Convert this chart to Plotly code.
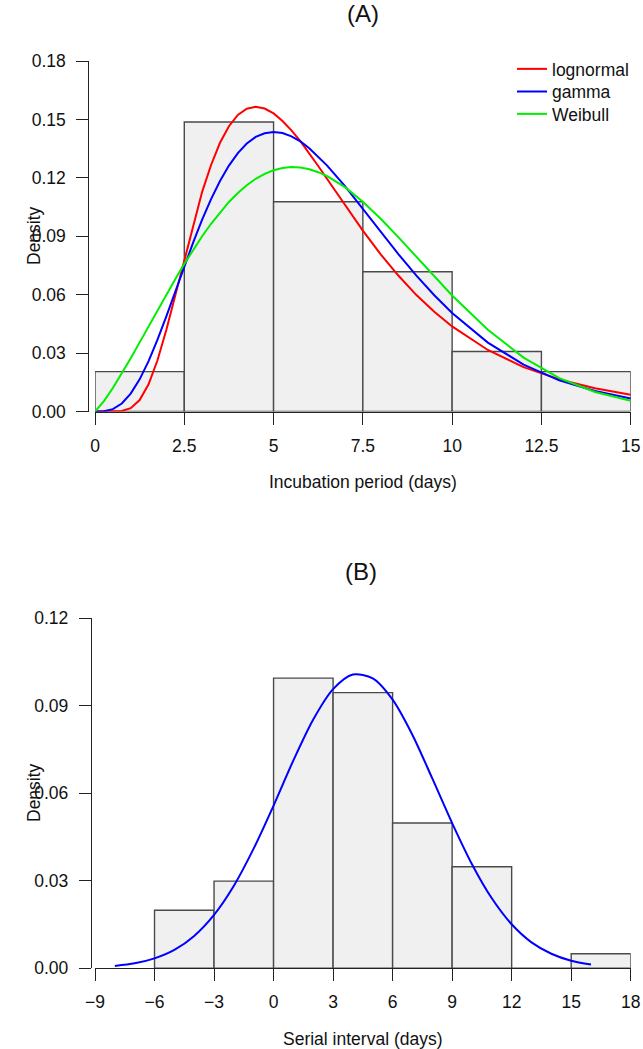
import plotly.graph_objects as go

# ---------------- data ----------------
# Panel A: incubation period histogram (density), bins of width 2.5
inc_bin_left = [0, 2.5, 5, 7.5, 10, 12.5]
inc_bin_width = 2.5
inc_density = [0.0205, 0.1487, 0.1077, 0.0718, 0.0308, 0.0205]

# fitted density curves
curve_x = [0, 0.25, 0.5, 0.75, 1, 1.25, 1.5, 1.75, 2, 2.25, 2.5, 2.75,
           3, 3.25, 3.5, 3.75, 4, 4.25, 4.5, 4.75, 5, 5.25, 5.5, 5.75, 6, 6.25,
           6.5, 7, 7.5, 8, 8.5, 9, 9.5, 10, 11, 12, 13, 14, 15]
lognormal_y = [0.0, 0.0, 0.0000, 0.0003, 0.0017, 0.0059, 0.0140, 0.0263, 0.0421,
               0.0599, 0.0784, 0.0964,
               0.1128, 0.1266, 0.1380, 0.1465, 0.1523, 0.1555, 0.1565, 0.1556,
               0.1531, 0.1492, 0.1444, 0.1388, 0.1326, 0.1261,
               0.1194, 0.1059, 0.0929, 0.0807, 0.0697, 0.0598, 0.0512, 0.0437,
               0.0316, 0.0228, 0.0165, 0.0119, 0.0086]
gamma_y = [0.0, 0.0001, 0.0012, 0.0041, 0.0092, 0.0165, 0.0259, 0.0369, 0.0490,
           0.0617, 0.0744, 0.0869,
           0.0985, 0.1091, 0.1184, 0.1263, 0.1327, 0.1376, 0.1410, 0.1429,
           0.1435, 0.1430, 0.1413, 0.1387, 0.1352, 0.1310,
           0.1263, 0.1157, 0.1041, 0.0923, 0.0807, 0.0698, 0.0597, 0.0506,
           0.0354, 0.0241, 0.0160, 0.0105, 0.0067]
weibull_y = [0.0, 0.0053, 0.0121, 0.0195, 0.0274, 0.0355, 0.0438, 0.0520, 0.0601,
             0.0681, 0.0758, 0.0831,
             0.0900, 0.0964, 0.1023, 0.1076, 0.1122, 0.1162, 0.1195, 0.1220,
             0.1239, 0.1250, 0.1255, 0.1253, 0.1244, 0.1229,
             0.1209, 0.1152, 0.1077, 0.0990, 0.0894, 0.0794, 0.0694, 0.0596,
             0.0420, 0.0277, 0.0171, 0.0100, 0.0055]

inc_xticks = [0, 2.5, 5, 7.5, 10, 12.5, 15]
inc_xticklabels = ["0", "2.5", "5", "7.5", "10", "12.5", "15"]
inc_yticks = [0.00, 0.03, 0.06, 0.09, 0.12, 0.15, 0.18]
inc_yticklabels = ["0.00", "0.03", "0.06", "0.09", "0.12", "0.15", "0.18"]

# Panel B: serial interval histogram (density), bins of width 3
si_bin_left = [-6, -3, 0, 3, 6, 9, 12, 15]
si_bin_width = 3
si_density = [0.0199, 0.0299, 0.0995, 0.0945, 0.0498, 0.0348, 0.0, 0.0050]

si_curve_x = [-8, -7, -6, -5, -4, -3, -2, -1, 0, 1, 2, 3, 4, 5, 6, 7, 8, 9,
              10, 11, 12, 13, 14, 15, 16]
si_curve_y = [0.0008, 0.0017, 0.0034, 0.0063, 0.0111, 0.0183, 0.0283, 0.0411,
              0.0558, 0.0713, 0.0853, 0.0957, 0.1007, 0.0994, 0.0921, 0.0800,
              0.0651, 0.0498, 0.0357, 0.0240, 0.0151, 0.0089, 0.0050, 0.0026,
              0.0013]

si_xticks = [-9, -6, -3, 0, 3, 6, 9, 12, 15, 18]
si_xticklabels = ["\u22129", "\u22126", "\u22123", "0", "3", "6", "9", "12", "15", "18"]
si_yticks = [0.00, 0.03, 0.06, 0.09, 0.12]
si_yticklabels = ["0.00", "0.03", "0.06", "0.09", "0.12"]

# ---------------- layout constants (pixels) ----------------
W, H = 643, 1049
FONT = "Liberation Sans, Arial, Helvetica, sans-serif"
TICK_FS = 17.5
TITLE_FS = 24

def px_x(p):
    return p / W

def px_y(p):
    return 1 - p / H

BAR_FILL = "#f0f0f0"
BAR_EDGE = "#4a4a4a"

fig = go.Figure()

fig.add_trace(go.Bar(
    x=[l + inc_bin_width / 2 for l in inc_bin_left], y=inc_density,
    width=[inc_bin_width] * len(inc_bin_left),
    marker=dict(color=BAR_FILL, line=dict(color=BAR_EDGE, width=1.4)),
    xaxis="x", yaxis="y", showlegend=False, hoverinfo="skip"))

legend_names = ["legend", "legend2", "legend3"]
for (name, ys, col), lg in zip([("lognormal", lognormal_y, "#ff0000"),
                                ("gamma", gamma_y, "#0000ff"),
                                ("Weibull", weibull_y, "#00ee00")], legend_names):
    fig.add_trace(go.Scatter(
        x=curve_x, y=ys, mode="lines", name=name, legend=lg,
        line=dict(color=col, width=2, shape="linear"),
        xaxis="x", yaxis="y"))

fig.add_trace(go.Bar(
    x=[l + si_bin_width / 2 for l in si_bin_left], y=si_density,
    width=[si_bin_width] * len(si_bin_left),
    marker=dict(color=BAR_FILL, line=dict(color=BAR_EDGE, width=1.4)),
    xaxis="x2", yaxis="y2", showlegend=False, hoverinfo="skip"))

fig.add_trace(go.Scatter(
    x=si_curve_x, y=si_curve_y, mode="lines", showlegend=False,
    line=dict(color="#0000ff", width=2, shape="spline", smoothing=0.8),
    xaxis="x2", yaxis="y2"))

axis_common = dict(showgrid=False, zeroline=False, ticks="outside", ticklen=12,
                   tickwidth=1, tickcolor="#222", showline=True, linecolor="#222",
                   linewidth=1, tickfont=dict(family=FONT, size=TICK_FS, color="#111"),
                   fixedrange=True, automargin=False)

def legend_box(ypix):
    return dict(x=px_x(512), y=px_y(ypix), xanchor="left", yanchor="middle",
                bgcolor="rgba(0,0,0,0)", borderwidth=0,
                font=dict(family=FONT, size=TICK_FS, color="#111"),
                itemwidth=30)

fig.update_layout(
    width=W, height=H,
    margin=dict(l=0, r=0, t=0, b=0, pad=0, autoexpand=False),
    paper_bgcolor="white", plot_bgcolor="white",
    bargap=0,
    font=dict(family=FONT, size=TICK_FS, color="#111"),
    xaxis=dict(domain=[px_x(95), px_x(630.7)], range=[0, 15], anchor="y",
               tickmode="array", tickvals=inc_xticks, ticktext=inc_xticklabels,
               ticklabelstandoff=6, **axis_common),
    yaxis=dict(domain=[px_y(411.5), px_y(61)], range=[0, 0.18], anchor="free",
               position=px_x(88.3), tickmode="array", tickvals=inc_yticks,
               ticktext=inc_yticklabels, ticklabelstandoff=7, **axis_common),
    xaxis2=dict(domain=[px_x(95), px_x(630.7)], range=[-9, 18], anchor="y2",
                tickmode="array", tickvals=si_xticks, ticktext=si_xticklabels,
                ticklabelstandoff=6, **axis_common),
    yaxis2=dict(domain=[px_y(968.3), px_y(618.3)], range=[0, 0.12], anchor="free",
                position=px_x(90.8), tickmode="array", tickvals=si_yticks,
                ticktext=si_yticklabels, ticklabelstandoff=7, **axis_common),
    legend=legend_box(69),
    legend2=legend_box(91.5),
    legend3=legend_box(114),
    showlegend=True,
)

ann = []
ann.append(dict(text="(A)", x=px_x(362.8), y=px_y(14), xref="paper", yref="paper",
                showarrow=False, xanchor="center", yanchor="middle",
                font=dict(family=FONT, size=TITLE_FS, color="#111")))
ann.append(dict(text="(B)", x=px_x(360.6), y=px_y(571), xref="paper", yref="paper",
                showarrow=False, xanchor="center", yanchor="middle",
                font=dict(family=FONT, size=TITLE_FS, color="#111")))
ann.append(dict(text="Incubation period (days)", x=px_x(362.9), y=px_y(481.7),
                xref="paper", yref="paper", showarrow=False, xanchor="center",
                yanchor="middle", font=dict(family=FONT, size=TICK_FS, color="#111")))
ann.append(dict(text="Serial interval (days)", x=px_x(362.9), y=px_y(1039),
                xref="paper", yref="paper", showarrow=False, xanchor="center",
                yanchor="middle", font=dict(family=FONT, size=TICK_FS, color="#111")))
ann.append(dict(text="Density", x=px_x(34), y=px_y(236), xref="paper", yref="paper",
                showarrow=False, xanchor="center", yanchor="middle", textangle=-90,
                font=dict(family=FONT, size=TICK_FS, color="#111")))
ann.append(dict(text="Density", x=px_x(34), y=px_y(793), xref="paper", yref="paper",
                showarrow=False, xanchor="center", yanchor="middle", textangle=-90,
                font=dict(family=FONT, size=TICK_FS, color="#111")))
fig.update_layout(annotations=ann)

fig.write_html(
    "out.html",
    config={"displayModeBar": False, "staticPlot": True},
    post_script="document.body.style.margin='0px';document.body.style.padding='0px';"
                "document.body.style.overflow='hidden';"
                "document.documentElement.style.overflow='hidden';")
